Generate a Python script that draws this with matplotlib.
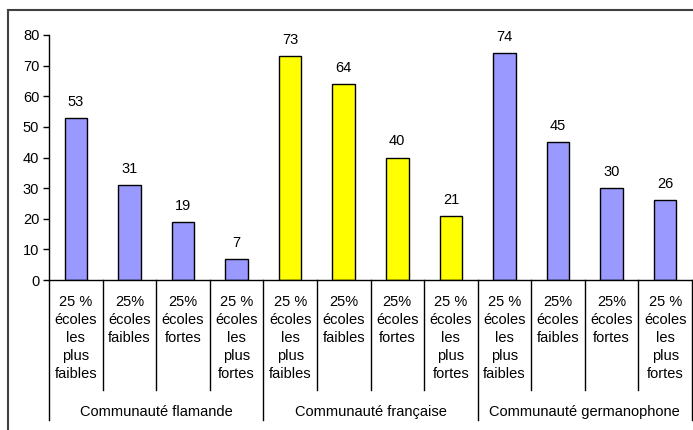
import matplotlib
matplotlib.use("Agg")
import matplotlib.pyplot as plt
import matplotlib.transforms as mtransforms
from matplotlib.patches import Rectangle

plt.rcParams['font.family'] = ['Liberation Sans', 'DejaVu Sans']

groups = ["Communauté flamande", "Communauté française", "Communauté germanophone"]
subcats = ["25 %\nécoles\nles\nplus\nfaibles", "25%\nécoles\nfaibles",
           "25%\nécoles\nfortes", "25 %\nécoles\nles\nplus\nfortes"]
values = [53, 31, 19, 7, 73, 64, 40, 21, 74, 45, 30, 26]
group_colors = ["#9999FF", "#FFFF00", "#9999FF"]
yticks = [0, 10, 20, 30, 40, 50, 60, 70, 80]

FS = 10.5
W, H = 693, 430
fig = plt.figure(figsize=(W / 100, H / 100), dpi=100)
ax = fig.add_axes([49 / W, 1 - 280 / H, (692 - 49) / W, 245 / H])

n = len(values)
xs = list(range(n))
colors = [group_colors[i // len(subcats)] for i in xs]
ax.bar(xs, values, width=0.42, color=colors, edgecolor='black', linewidth=1.0, zorder=2)
for x, v in zip(xs, values):
    ax.annotate(str(v), (x, v), xytext=(0, 6.5), textcoords='offset points',
                ha='center', va='bottom', fontsize=FS)

ax.set_xlim(-0.5, n - 0.5)
ax.set_ylim(0, 80)
ax.set_yticks(yticks)
ax.tick_params(axis='y', direction='out', length=4, width=1, labelsize=FS, pad=3)
ax.set_xticks([])
for s in ['top', 'right']:
    ax.spines[s].set_visible(False)
ax.spines['left'].set_linewidth(1)
ax.spines['bottom'].set_linewidth(1)

trans = mtransforms.blended_transform_factory(ax.transData, ax.transAxes)
ph = 245.0
inner_bottom = -(390 - 280) / ph
outer_bottom = -(420 - 280) / ph
for b in range(n + 1):
    xb = b - 0.5
    yb = outer_bottom if b % len(subcats) == 0 else inner_bottom
    ax.plot([xb, xb], [0, yb], transform=trans, color='black', lw=1, clip_on=False)

for i in xs:
    ax.text(i, -(295 - 280) / ph, subcats[i % len(subcats)], transform=trans,
            ha='center', va='top', fontsize=FS, linespacing=1.37)

for g, name in enumerate(groups):
    xc = g * len(subcats) + (len(subcats) - 1) / 2
    ax.text(xc, -(412 - 280) / ph, name, transform=trans, ha='center', va='center', fontsize=FS)

# outer chart frame (partially cropped)
fig.patches.append(Rectangle((8 / W, -0.1), 1.2, 1.1 - 10 / H, transform=fig.transFigure,
                             fill=False, edgecolor='#404040', linewidth=1.5))

fig.savefig("out.png", dpi=100)
